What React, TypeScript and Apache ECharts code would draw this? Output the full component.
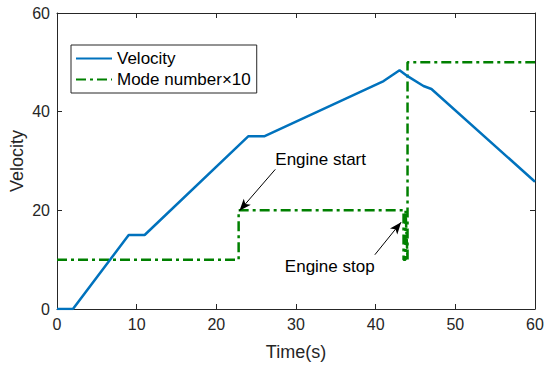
import React, { useEffect, useRef } from "react";
import * as echarts from "echarts";

const velocityTime = [0, 2, 9, 11, 24, 26, 41, 43, 44, 46, 47, 60];
const velocityValue = [0, 0, 15, 15, 35, 35, 46.2, 48.4, 47.2, 45.2, 44.6, 25.8];

const modeTime = [0, 22.8, 22.8, 43.5, 43.5, 43.75, 43.75, 44.0, 44.0, 60];
const modeValue = [10, 10, 20, 20, 10, 10, 20, 10, 50, 50];

const xTicks = [0, 10, 20, 30, 40, 50, 60];
const yTicks = [0, 20, 40, 60];

const startArrow = [[27.4, 28.3], [22.9, 19.9]];
const stopArrow = [[39.9, 11.0], [43.2, 17.6]];
const startLabel = { text: "Engine start", pos: [27.4, 30.4] };
const stopLabel = { text: "Engine stop", pos: [28.6, 8.6] };

const FONT = "Liberation Sans, Arial, sans-serif";
const AX = "#262626";

export default function App() {
  const ref = useRef<HTMLDivElement>(null);
  useEffect(() => {
    const chart = echarts.init(ref.current!, undefined, { renderer: "svg" });
    const grid = { left: 57, right: 15, top: 13, bottom: 59, containLabel: false, outerBoundsMode: "none" };
    const axCommon = {
      min: 0,
      max: 60,
      interval: 10,
      axisLine: { show: true, onZero: false, lineStyle: { color: AX, width: 1 } },
      axisTick: { show: true, inside: true, length: 5, lineStyle: { color: AX } },
      splitLine: { show: false },
    };
    chart.setOption({
      animation: false,
      backgroundColor: "#fff",
      grid,
      legend: {
        orient: "vertical",
        left: 71,
        top: 45,
        padding: [5, 6, 5, 4],
        itemGap: 4,
        itemWidth: 36,
        itemHeight: 16,
        borderColor: AX,
        borderWidth: 1,
        backgroundColor: "#fff",
        itemStyle: { opacity: 0 },
        textStyle: { fontFamily: FONT, fontSize: 17, color: "#000" },
        data: ["Velocity", "Mode number×10"],
      },
      xAxis: [
        {
          ...axCommon,
          type: "value",
          position: "bottom",
          name: "Time(s)",
          nameLocation: "middle",
          nameGap: 34,
          nameTextStyle: { fontFamily: FONT, fontSize: 18, color: AX },
          axisLabel: {
            fontFamily: FONT,
            fontSize: 16,
            color: AX,
            margin: 7,
            formatter: (v: number) => (xTicks.includes(v) ? String(v) : ""),
          },
        },
        {
          ...axCommon,
          type: "value",
          position: "top",
          axisLabel: { show: false },
        },
      ],
      yAxis: [
        {
          ...axCommon,
          type: "value",
          interval: 20,
          position: "left",
          name: "Velocity",
          nameLocation: "middle",
          nameGap: 31,
          nameMoveOverlap: false,
          nameTextStyle: { fontFamily: FONT, fontSize: 18, color: AX },
          axisLabel: {
            fontFamily: FONT,
            fontSize: 16,
            color: AX,
            margin: 7,
            formatter: (v: number) => (yTicks.includes(v) ? String(v) : ""),
          },
        },
        {
          ...axCommon,
          type: "value",
          interval: 20,
          position: "right",
          axisLabel: { show: false },
        },
      ],
      series: [
        {
          name: "Velocity",
          type: "line",
          symbol: "none",
          data: velocityTime.map((t, i) => [t, velocityValue[i]]),
          lineStyle: { color: "#0072BD", width: 2.5 },
          itemStyle: { color: "#0072BD" },
          z: 3,
        },
        {
          name: "Mode number×10",
          type: "line",
          symbol: "none",
          data: modeTime.map((t, i) => [t, modeValue[i]]),
          lineStyle: { color: "#008000", width: 2.5, type: [10, 4, 3, 4] },
          itemStyle: { color: "#008000" },
          z: 2,
          markLine: {
            silent: true,
            symbol: ["none", "arrow"],
            symbolSize: [7, 12],
            label: { show: false },
            lineStyle: { color: "#000", width: 1, type: "solid" },
            emphasis: { disabled: true },
            data: [
              [{ coord: startArrow[0] }, { coord: startArrow[1] }],
              [{ coord: stopArrow[0] }, { coord: stopArrow[1] }],
            ],
          },
        },
      ],
    });
    const p1 = chart.convertToPixel({ gridIndex: 0 }, startLabel.pos) as number[];
    const p2 = chart.convertToPixel({ gridIndex: 0 }, stopLabel.pos) as number[];
    const txt = (p: number[], text: string) => ({
      type: "text",
      x: p[0],
      y: p[1],
      style: {
        text,
        fontFamily: FONT,
        fontSize: 17,
        fill: "#000",
        verticalAlign: "middle",
        align: "left",
      },
      z: 10,
    });
    chart.setOption({ graphic: [txt(p1, startLabel.text), txt(p2, stopLabel.text)] });
    return () => chart.dispose();
  }, []);
  return <div ref={ref} style={{ width: 550, height: 368, position: "absolute", left: 0, top: 0 }} />;
}
